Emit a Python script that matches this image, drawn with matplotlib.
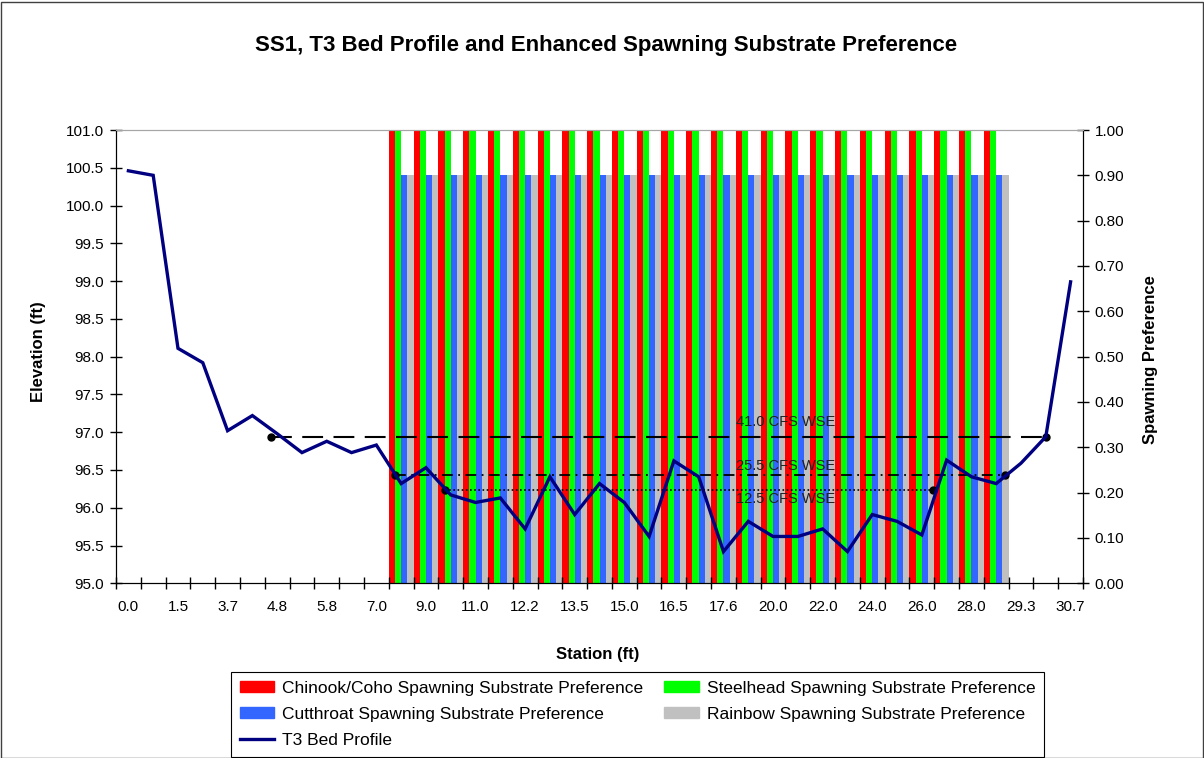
import numpy as np
import matplotlib
matplotlib.use("Agg")
import matplotlib.pyplot as plt
from matplotlib.patches import Rectangle, Patch
from matplotlib.lines import Line2D

plt.rcParams['font.family'] = ['Liberation Sans', 'DejaVu Sans']

# station labels shown under every second category
station_labels = ["0.0", "1.5", "3.7", "4.8", "5.8", "7.0", "9.0", "11.0", "12.2", "13.5",
                  "15.0", "16.5", "17.6", "20.0", "22.0", "24.0", "26.0", "28.0", "29.3", "30.7"]

# bed profile elevation (ft), one value per category
bed_elev = [100.46, 100.40, 98.11, 97.92, 97.02, 97.22, 96.98, 96.73, 96.88, 96.73,
            96.83, 96.32, 96.53, 96.17, 96.07, 96.13, 95.72, 96.41, 95.91, 96.32,
            96.07, 95.62, 96.62, 96.41, 95.42, 95.82, 95.62, 95.62, 95.72, 95.42,
            95.91, 95.82, 95.64, 96.63, 96.41, 96.32, 96.59, 96.94, 98.99]

# spawning substrate preference per category
chinook = [0, 0, 0, 0, 0, 0, 0, 0, 0, 0, 0,
           1.0, 1.0, 1.0, 1.0, 1.0, 1.0, 1.0, 1.0, 1.0, 1.0, 1.0, 1.0, 1.0,
           1.0, 1.0, 1.0, 1.0, 1.0, 1.0, 1.0, 1.0, 1.0, 1.0, 1.0, 1.0,
           0, 0, 0]
steelhead = [0, 0, 0, 0, 0, 0, 0, 0, 0, 0, 0,
             1.0, 1.0, 1.0, 1.0, 1.0, 1.0, 1.0, 1.0, 1.0, 1.0, 1.0, 1.0, 1.0,
             1.0, 1.0, 1.0, 1.0, 1.0, 1.0, 1.0, 1.0, 1.0, 1.0, 1.0, 1.0,
             0, 0, 0]
cutthroat = [0, 0, 0, 0, 0, 0, 0, 0, 0, 0, 0,
             0.9, 0.9, 0.9, 0.9, 0.9, 0.9, 0.9, 0.9, 0.9, 0.9, 0.9, 0.9, 0.9,
             0.9, 0.9, 0.9, 0.9, 0.9, 0.9, 0.9, 0.9, 0.9, 0.9, 0.9, 0.9,
             0, 0, 0]
rainbow = [0, 0, 0, 0, 0, 0, 0, 0, 0, 0, 0,
           0.9, 0.9, 0.9, 0.9, 0.9, 0.9, 0.9, 0.9, 0.9, 0.9, 0.9, 0.9, 0.9,
           0.9, 0.9, 0.9, 0.9, 0.9, 0.9, 0.9, 0.9, 0.9, 0.9, 0.9, 0.9,
           0, 0, 0]

# water surface elevations (x in category units)
wse41_x = [5.75, 37.0]
wse41_y = [96.93, 96.93]
wse25_x = [10.75, 35.34]
wse25_y = [96.43, 96.43]
wse12_x = [12.76, 32.45]
wse12_y = [96.23, 96.23]

W, H = 1204, 758
fig = plt.figure(figsize=(W / 100, H / 100), dpi=100)
fig.patches.append(Rectangle((0.5 / W, 0.5 / H), 1 - 2 / W, 1 - 2 / H, transform=fig.transFigure,
                             fill=False, edgecolor='#404040', lw=1))

left, right, top, bottom = 116, 1083, 130, 583.3
ax = fig.add_axes([left / W, 1 - bottom / H, (right - left) / W, (bottom - top) / H])
ax2 = ax.twinx()

n = len(bed_elev)
x = np.arange(n)
bw = 0.25
ax2.bar(x - 1.5 * bw, chinook, bw, color='#FF0000', linewidth=0)
ax2.bar(x - 0.5 * bw, steelhead, bw, color='#00FF00', linewidth=0)
ax2.bar(x + 0.5 * bw, cutthroat, bw, color='#3366FF', linewidth=0)
ax2.bar(x + 1.5 * bw, rainbow, bw, color='#C0C0C0', linewidth=0)
ax2.set_ylim(0, 1.0)
ax2.set_yticks(np.arange(0, 1.01, 0.1))
ax2.set_yticklabels(["%.2f" % v for v in np.arange(0, 1.01, 0.1)])

ax.set_zorder(ax2.get_zorder() + 1)
ax.patch.set_visible(False)

ax.plot(wse41_x, wse41_y, color='black', lw=1.5, dashes=(10, 5), marker='o', ms=5)
ax.plot(wse25_x, wse25_y, color='black', lw=1.3, dashes=(6, 3, 1, 3), marker='o', ms=5)
ax.plot(wse12_x, wse12_y, color='black', lw=1.2, dashes=(1, 1.5), marker='o', ms=5)
ax.plot(x, bed_elev, color='#000080', lw=2.4, solid_joinstyle='miter')

ax.text(24.5, 97.13, "41.0 CFS WSE", fontsize=10.5, va='center', ha='left', color='#222222')
ax.text(24.5, 96.55, "25.5 CFS WSE", fontsize=10.5, va='center', ha='left', color='#222222')
ax.text(24.5, 96.12, "12.5 CFS WSE", fontsize=10.5, va='center', ha='left', color='#222222')

ax.set_xlim(-0.5, n - 0.5)
ax.set_ylim(95.0, 101.0)
yt = np.arange(95.0, 101.01, 0.5)
ax.set_yticks(yt)
ax.set_yticklabels(["%.1f" % v for v in yt])
ax.set_xticks(np.arange(-0.5, n, 1.0))
ax.set_xticklabels([])
ax.set_xticks(np.arange(0, n, 2), minor=True)
ax.set_xticklabels(station_labels, minor=True)

ax.tick_params(axis='x', which='major', direction='inout', length=9, width=1)
ax.tick_params(axis='x', which='minor', length=0, pad=12, labelsize=11)
ax.tick_params(axis='y', direction='inout', length=9, width=1, pad=4, labelsize=11)
ax2.tick_params(axis='y', direction='inout', length=9, width=1, pad=4, labelsize=11)

for a in (ax, ax2):
    a.spines['top'].set_color('#A6A6A6')
    a.spines['left'].set_color('black')
    a.spines['right'].set_color('black')
    a.spines['bottom'].set_color('black')

fig.text(0.5 * (256 + 957) / W, 1 - 45 / H, "SS1, T3 Bed Profile and Enhanced Spawning Substrate Preference",
         ha='center', va='center', fontsize=16, fontweight='bold')
fig.text(38 / W, 1 - 352 / H, "Elevation (ft)", rotation=90, ha='center', va='center',
         fontsize=12, fontweight='bold')
fig.text(1150 / W, 1 - 360 / H, "Spawning Preference", rotation=90, ha='center', va='center',
         fontsize=12, fontweight='bold')
fig.text(598 / W, 1 - 654 / H, "Station (ft)", ha='center', va='center', fontsize=12, fontweight='bold')

handles = [Patch(color='#FF0000'), Patch(color='#3366FF'), Line2D([], [], color='#000080', lw=2.4),
           Patch(color='#00FF00'), Patch(color='#C0C0C0')]
labels = ["Chinook/Coho Spawning Substrate Preference", "Cutthroat Spawning Substrate Preference",
          "T3 Bed Profile", "Steelhead Spawning Substrate Preference", "Rainbow Spawning Substrate Preference"]
leg = fig.legend(handles, labels, ncol=2, loc='upper left', bbox_to_anchor=(231 / W, 1 - 672 / H),
                 fontsize=12.5, frameon=True, fancybox=False, edgecolor='black', framealpha=1,
                 handlelength=2.0, handleheight=0.6, handletextpad=0.45, columnspacing=1.2,
                 labelspacing=0.65, borderpad=0.5, borderaxespad=0)
leg.get_frame().set_linewidth(0.8)

fig.savefig("out.png", dpi=100)
